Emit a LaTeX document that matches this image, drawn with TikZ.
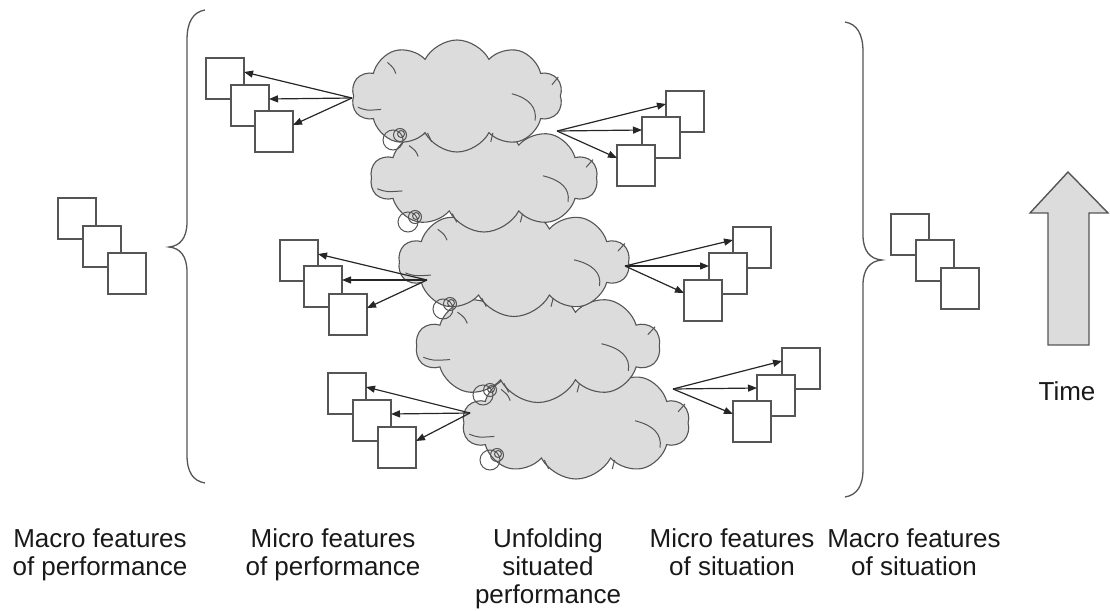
\documentclass[tikz,border=0pt]{standalone}
\usepackage{fontspec}
\setmainfont{Liberation Sans}
\usetikzlibrary{shapes.symbols,arrows.meta,calc}
\definecolor{cloudgray}{RGB}{220,220,220}
\definecolor{edgegray}{RGB}{85,85,85}
\newcommand{\cloudinner}[4]{%
  \begin{scope}[shift={(#1,#2)}, xscale=#3, yscale=#4, edgegray, line width=1pt]
    \draw (-0.47,0.10) .. controls (-0.43,0.13) .. (-0.36,0.12);
    \draw (0.26,-0.02) .. controls (0.34,0.02) and (0.38,0.10) .. (0.37,0.22);
    \draw (0.45,-0.10) -- (0.48,-0.17);
    \draw (-0.14,0.33) -- (-0.12,0.41);
    \draw (0.17,0.33) -- (0.16,0.41);
    \draw (-0.33,-0.30) .. controls (-0.30,-0.25) .. (-0.29,-0.20);
  \end{scope}}
\begin{document}
\begin{tikzpicture}[x=1pt,y=-1pt,
  cloudsh/.style={cloud, cloud puffs=10, cloud puff arc=125, draw=edgegray, fill=cloudgray, line width=1.1pt, inner sep=0pt, outer sep=0pt},
  box/.style={draw=edgegray, fill=white, line width=1.5pt, minimum width=38pt, minimum height=41pt, inner sep=0pt, outer sep=0pt, anchor=north west},
  arr/.style={-{Triangle[length=9pt,width=7pt]}, draw=black!85, line width=1.2pt},
  lbl/.style={font=\fontsize{26}{28}\selectfont, align=center, anchor=north, inner sep=0pt, text=black!90},
  bracesty/.style={draw=edgegray, line width=1.3pt},
  swirl/.pic={\draw[edgegray, line width=1pt] (0,0) circle[radius=10] (7,-5) circle[radius=6.5] (8,-6) circle[radius=3.5];}
]
\useasboundingbox (0,0) rectangle (1110,610);

% braces
\draw[bracesty] (205,10) .. controls (193,12) and (187,22) .. (187,40) -- (187,222)
  .. controls (187,238) and (180,246) .. (169,247)
  .. controls (180,248) and (187,256) .. (187,272) -- (187,455)
  .. controls (187,472) and (193,481) .. (205,483);
\draw[bracesty] (845,22) .. controls (857,24) and (863,34) .. (863,52) -- (863,235)
  .. controls (863,251) and (870,259) .. (882,260)
  .. controls (870,261) and (863,269) .. (863,285) -- (863,469)
  .. controls (863,486) and (857,495) .. (845,497);

% clouds (bottom first), each with its inner arcs
\node[cloudsh, minimum width=227pt, minimum height=112pt] (c5) at (576,423) {};
\cloudinner{576}{423}{227}{112}
\node[cloudsh, minimum width=244pt, minimum height=113pt] (c4) at (538,346) {};
\cloudinner{538}{346}{244}{113}
\node[cloudsh, minimum width=231pt, minimum height=109pt] (c3) at (514,262) {};
\cloudinner{514}{262}{231}{109}
\node[cloudsh, minimum width=227pt, minimum height=108pt] (c2) at (484,178) {};
\cloudinner{484}{178}{227}{108}
\node[cloudsh, minimum width=211pt, minimum height=112pt] (c1) at (457,96) {};
\cloudinner{457}{96}{211}{112}

% thought-bubble swirls
\pic at (393,140) {swirl};
\pic at (408,222) {swirl};
\pic at (443,309) {swirl};
\pic at (483,395) {swirl};
\pic at (490,460) {swirl};

% macro groups
\node[box] (lm1) at (58,198) {};
\node[box] (lm2) at (83,226) {};
\node[box] (lm3) at (108,253) {};
\node[box] (rm1) at (891,214) {};
\node[box] (rm2) at (916,240) {};
\node[box] (rm3) at (941,268) {};

% micro groups, performance side
\node[box] (tl1) at (206,58) {};
\node[box] (tl2) at (231,85) {};
\node[box] (tl3) at (255,111) {};
\node[box] (ml1) at (280,240) {};
\node[box] (ml2) at (304,266) {};
\node[box] (ml3) at (329,294) {};
\node[box] (bl1) at (328,373) {};
\node[box] (bl2) at (353,400) {};
\node[box] (bl3) at (378,427) {};

% micro groups, situation side
\node[box] (tr1) at (666,91) {};
\node[box] (tr2) at (642,117) {};
\node[box] (tr3) at (617,145) {};
\node[box] (mr1) at (733,227) {};
\node[box] (mr2) at (709,253) {};
\node[box] (mr3) at (684,280) {};
\node[box] (br1) at (782,348) {};
\node[box] (br2) at (757,375) {};
\node[box] (br3) at (733,401) {};

% arrow sources on the clouds
\coordinate (stl) at (352,98);
\coordinate (sml) at (427,280);
\coordinate (sbl) at (470,413);
\coordinate (str) at (557,131);
\coordinate (smr) at (625,266);
\coordinate (sbr) at (673,389);

\foreach \g/\s in {tl/stl, ml/sml, bl/sbl}{
  \foreach \i in {1,2,3}{
    \draw[arr] (\s) -- ($(\g\i.north east)+(0,14)$);
  }
}
\foreach \g/\s in {tr/str, mr/smr, br/sbr}{
  \foreach \i in {1,2,3}{
    \draw[arr] (\s) -- ($(\g\i.north west)+(0,13)$);
  }
}

% time arrow
\draw[draw=edgegray, fill=cloudgray, line width=1.4pt, line join=miter]
  (1048,345) -- (1048,213) -- (1030,213) -- (1068,172) -- (1108,213) -- (1089,213) -- (1089,345) -- cycle;
\node[lbl] (time) at (1067,381) {Time};

% labels
\node[lbl] (l1) at (100,528) {Macro features\\of performance};
\node[lbl] (l2) at (333,528) {Micro features\\of performance};
\node[lbl] (l3) at (548,528) {Unfolding\\situated\\performance};
\node[lbl] (l4) at (732,528) {Micro features\\of situation};
\node[lbl] (l5) at (914,528) {Macro features\\of situation};
\end{tikzpicture}
\end{document}
